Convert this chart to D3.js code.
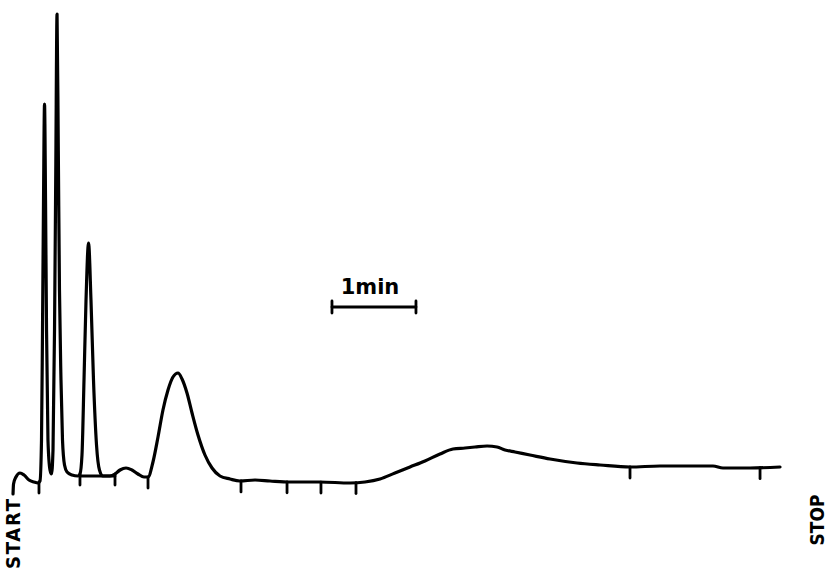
<!DOCTYPE html>
<html>

    <head>
        <meta charset="UTF-8">
        <title>Chromatogram</title>
        <script src="https://d3js.org/d3.v7.min.js"></script>
        <style>
            body {
                margin: 0;
                background: #fff;
            }

            .trace {
                fill: none;
                stroke: #000;
                stroke-width: 3.2;
                stroke-linejoin: round;
                stroke-linecap: round;
            }

            .tick-mark,
            .drop,
            .scale-bar {
                stroke: #000;
                stroke-width: 2.8;
                stroke-linecap: round;
            }

            .label {
                font-family: "DejaVu Sans Condensed", "DejaVu Sans", sans-serif;
                font-weight: bold;
                fill: #000;
            }
        </style>
    </head>

    <body>
        <script>

            // retention time (min) and detector signal (arbitrary units)
            var timeMin = [
                0.036, 0.042, 0.071, 0.119, 0.167, 0.226, 0.286, 0.333, 0.357, 0.375,
                0.387, 0.399, 0.411, 0.423, 0.435, 0.452, 0.476, 0.494, 0.512, 0.530,
                0.545, 0.560, 0.575, 0.589, 0.607, 0.625, 0.649, 0.679, 0.738, 0.810,
                0.833, 0.857, 0.881, 0.905, 0.935, 0.964, 0.994, 1.030, 1.065, 1.107,
                1.190, 1.250, 1.310, 1.381, 1.452, 1.524, 1.595, 1.643, 1.702, 1.762,
                1.821, 1.881, 1.940, 2.000, 2.048, 2.107, 2.167, 2.238, 2.321, 2.405,
                2.500, 2.619, 2.738, 2.917, 3.095, 3.333, 3.690, 4.048, 4.226, 4.405,
                4.583, 4.762, 4.940, 5.119, 5.274, 5.417, 5.536, 5.679, 5.798, 5.893,
                6.012, 6.190, 6.429, 6.750, 7.024, 7.381, 7.738, 8.095, 8.369, 8.488,
                8.810, 9.167
            ];

            var signal = [
                -4, 6, 13, 17, 15, 10, 8, 7, 9, 50,
                160, 290, 386, 290, 160, 50, 20, 16, 40, 160,
                320, 476, 340, 200, 110, 50, 25, 18, 15, 14,
                16, 35, 110, 190, 247, 190, 110, 45, 20, 14,
                14, 16, 20, 22, 20, 16, 13, 13, 28, 53,
                80, 100, 113, 117, 111, 97, 77, 55, 35, 22,
                14, 11, 9, 10, 9, 8, 8, 7, 8, 11,
                17, 23, 29, 36, 41, 42, 43, 44, 43, 40,
                38, 35, 31, 27, 25, 23, 24, 24, 24, 22,
                22, 23
            ];

            // marks drawn under the trace by the recorder
            var markTimes = [0.345, 0.833, 1.250, 1.643, 2.750, 3.298, 3.702, 4.119, 7.381, 8.929];

            // baseline drawn under the third peak
            var dropLine = {from: 0.833, to: 1.250, level: 14};

            // 1 min scale bar
            var scaleBar = {start: 3.833, minutes: 1, level: 183, text: "1min"};

            var width = 833,
                    height = 571;

            var x = d3.scaleLinear()
                    .domain([0, 9.2])
                    .range([10, 10 + 9.2 * 84]);

            var y = d3.scaleLinear()
                    .domain([0, 480])
                    .range([490, 10]);

            var data = timeMin.map(function (t, i) {
                return {t: t, v: signal[i]};
            });

            var svg = d3.select("body").append("svg")
                    .attr("width", width)
                    .attr("height", height);

            var line = d3.line()
                    .x(function (d) {
                        return x(d.t);
                    })
                    .y(function (d) {
                        return y(d.v);
                    })
                    .curve(d3.curveMonotoneX);

            svg.append("path")
                    .datum(data)
                    .attr("class", "trace")
                    .attr("d", line);

            var bisect = d3.bisector(function (d) {
                return d.t;
            }).left;

            function valueAt(t) {
                var i = bisect(data, t);
                if (i <= 0)
                    return data[0].v;
                if (i >= data.length)
                    return data[data.length - 1].v;
                var a = data[i - 1], b = data[i];
                return a.v + (b.v - a.v) * (t - a.t) / (b.t - a.t);
            }

            svg.selectAll(".tick-mark")
                    .data(markTimes)
                    .enter().append("line")
                    .attr("class", "tick-mark")
                    .attr("x1", function (d) {
                        return x(d);
                    })
                    .attr("x2", function (d) {
                        return x(d);
                    })
                    .attr("y1", function (d) {
                        return y(valueAt(d));
                    })
                    .attr("y2", function (d) {
                        return y(valueAt(d)) + 11;
                    });

            svg.append("line")
                    .attr("class", "drop")
                    .attr("x1", x(dropLine.from))
                    .attr("x2", x(dropLine.to))
                    .attr("y1", y(dropLine.level))
                    .attr("y2", y(dropLine.level));

            var bar = svg.append("g");
            var bx0 = x(scaleBar.start),
                    bx1 = x(scaleBar.start + scaleBar.minutes),
                    by = y(scaleBar.level);

            bar.append("line")
                    .attr("class", "scale-bar")
                    .attr("x1", bx0).attr("x2", bx1)
                    .attr("y1", by).attr("y2", by);

            bar.selectAll(".cap")
                    .data([bx0, bx1])
                    .enter().append("line")
                    .attr("class", "scale-bar cap")
                    .attr("x1", function (d) {
                        return d;
                    })
                    .attr("x2", function (d) {
                        return d;
                    })
                    .attr("y1", by - 6)
                    .attr("y2", by + 6);

            bar.append("text")
                    .attr("class", "label")
                    .attr("x", (bx0 + bx1) / 2 - 4)
                    .attr("y", by - 13)
                    .attr("text-anchor", "middle")
                    .style("font-family", "'DejaVu Sans', sans-serif")
                    .style("font-size", "21px")
                    .text(scaleBar.text);

            svg.append("text")
                    .attr("class", "label")
                    .attr("transform", "translate(20,534) rotate(-90)")
                    .attr("text-anchor", "middle")
                    .style("font-size", "20px")
                    .attr("textLength", 70)
                    .text("START");

            svg.append("text")
                    .attr("class", "label")
                    .attr("transform", "translate(824,520) rotate(-90)")
                    .attr("text-anchor", "middle")
                    .style("font-size", "19px")
                    .text("STOP");

        </script>

    </body>

</html>
